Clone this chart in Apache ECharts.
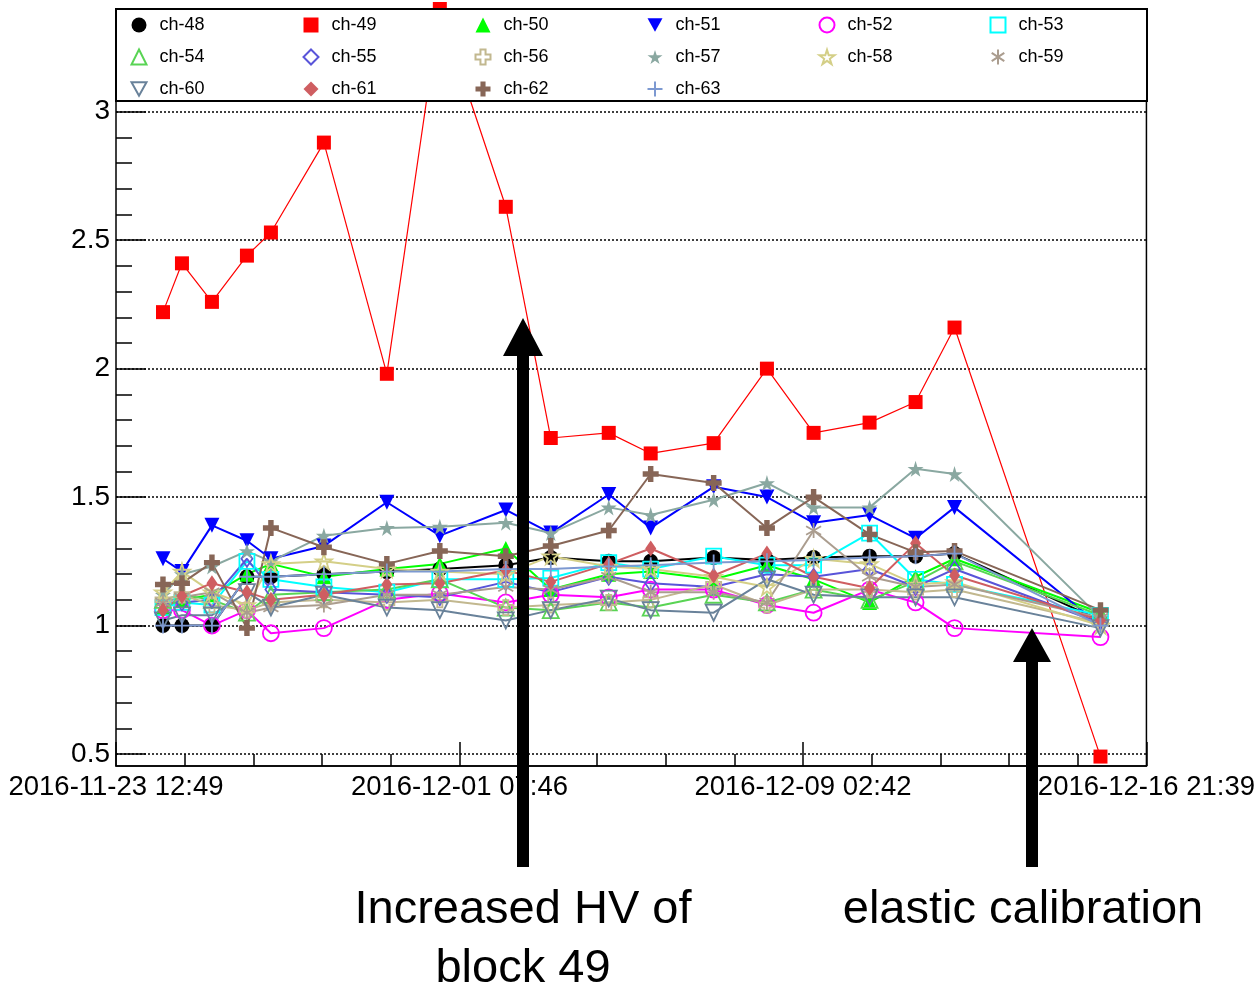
<!DOCTYPE html>
<html>
<head>
<meta charset="utf-8">
<title>ch-48 ~ ch-63</title>
<script src="https://cdn.jsdelivr.net/npm/echarts@6/dist/echarts.min.js"></script>
<style>
    html, body { margin: 0; padding: 0; background: #fff; }
    #main { width: 1258px; height: 988px; }
</style>
</head>
<body>
<div id="main"></div>
<script>
// 运行时间（每个点的横坐标）
let runTimes = ['2016-11-24 14:23', '2016-11-25 00:43', '2016-11-25 17:02', '2016-11-26 12:05', '2016-11-27 01:08',
    '2016-11-28 05:58', '2016-11-29 16:14', '2016-11-30 21:04', '2016-12-02 08:58', '2016-12-03 09:27',
    '2016-12-04 17:00', '2016-12-05 15:50', '2016-12-07 02:06', '2016-12-08 07:06', '2016-12-09 08:30',
    '2016-12-10 14:58', '2016-12-11 16:00', '2016-12-12 13:12', '2016-12-15 20:38'];
// x轴刻度标签
let xTickLabels = ['2016-11-23 12:49', '2016-12-01 07:46', '2016-12-09 02:42', '2016-12-16 21:39'];
// y轴范围
let yTop = 3.4;
let yTickStart = 0.5;
let yDataMin = 0.4533;

let ch48 = [1.00, 1.00, 1.00, 1.19, 1.19, 1.20, 1.21, 1.22, 1.235, 1.265, 1.25, 1.25, 1.265, 1.255, 1.265, 1.27, 1.27, 1.28, 1.02];
let ch49 = [2.22, 2.41, 2.26, 2.44, 2.53, 2.88, 1.98, 3.40, 2.63, 1.73, 1.75, 1.67, 1.71, 2.00, 1.75, 1.79, 1.87, 2.16, 0.49];
let ch50 = [1.07, 1.10, 1.12, 1.20, 1.24, 1.19, 1.22, 1.24, 1.30, 1.14, 1.20, 1.21, 1.18, 1.235, 1.18, 1.09, 1.19, 1.26, 1.05];
let ch51 = [1.26, 1.21, 1.39, 1.33, 1.26, 1.31, 1.48, 1.35, 1.45, 1.36, 1.51, 1.38, 1.54, 1.50, 1.40, 1.43, 1.34, 1.46, 1.00];
let ch52 = [1.06, 1.06, 1.00, 1.06, 0.97, 0.99, 1.10, 1.125, 1.09, 1.12, 1.11, 1.14, 1.14, 1.08, 1.05, 1.14, 1.09, 0.99, 0.955];
let ch53 = [1.07, 1.09, 1.08, 1.25, 1.18, 1.15, 1.13, 1.18, 1.18, 1.185, 1.245, 1.22, 1.27, 1.235, 1.235, 1.36, 1.18, 1.16, 1.04];
let ch54 = [1.10, 1.12, 1.10, 1.05, 1.12, 1.13, 1.14, 1.18, 1.07, 1.06, 1.09, 1.07, 1.12, 1.09, 1.14, 1.10, 1.17, 1.25, 1.04];
let ch55 = [1.09, 1.09, 1.10, 1.26, 1.14, 1.13, 1.12, 1.11, 1.17, 1.13, 1.19, 1.165, 1.15, 1.20, 1.19, 1.22, 1.15, 1.22, 1.01];
let ch56 = [1.10, 1.12, 1.08, 1.06, 1.09, 1.10, 1.09, 1.10, 1.07, 1.08, 1.09, 1.10, 1.16, 1.08, 1.14, 1.14, 1.13, 1.14, 1.01];
let ch57 = [1.12, 1.20, 1.23, 1.29, 1.25, 1.35, 1.38, 1.385, 1.40, 1.36, 1.46, 1.43, 1.49, 1.555, 1.46, 1.46, 1.61, 1.59, 1.03];
let ch58 = [1.13, 1.21, 1.13, 1.08, 1.24, 1.25, 1.22, 1.21, 1.20, 1.27, 1.23, 1.22, 1.19, 1.15, 1.26, 1.24, 1.16, 1.17, 1.00];
let ch59 = [1.09, 1.11, 1.13, 1.05, 1.07, 1.08, 1.12, 1.12, 1.15, 1.14, 1.19, 1.13, 1.13, 1.09, 1.37, 1.19, 1.15, 1.16, 1.03];
let ch60 = [1.02, 1.04, 1.04, 1.13, 1.07, 1.12, 1.07, 1.06, 1.02, 1.06, 1.105, 1.06, 1.05, 1.18, 1.12, 1.11, 1.11, 1.11, 0.99];
let ch61 = [1.06, 1.115, 1.165, 1.13, 1.10, 1.12, 1.16, 1.165, 1.215, 1.17, 1.24, 1.30, 1.195, 1.28, 1.19, 1.145, 1.32, 1.195, 1.02];
let ch62 = [1.16, 1.165, 1.245, 0.99, 1.38, 1.305, 1.24, 1.29, 1.27, 1.31, 1.37, 1.59, 1.555, 1.38, 1.50, 1.355, 1.285, 1.29, 1.06];
let ch63 = [1.00, 1.00, 1.00, 1.19, 1.19, 1.20, 1.21, 1.21, 1.22, 1.22, 1.23, 1.235, 1.245, 1.25, 1.255, 1.265, 1.27, 1.28, 1.00];

// 标记形状
const TRI_DOWN = 'path://M0,0 L10,0 L5,9 Z';
const CROSS = 'path://M3.3,0 L6.7,0 L6.7,3.3 L10,3.3 L10,6.7 L6.7,6.7 L6.7,10 L3.3,10 L3.3,6.7 L0,6.7 L0,3.3 L3.3,3.3 Z';
const STAR = 'path://M50,0 L61,35 L98,35 L68,57 L79,91 L50,70 L21,91 L32,57 L2,35 L39,35 Z';
const ASTERISK = 'path://M5,0 L5,10 M0.8,2.2 L9.2,7.8 M0.8,7.8 L9.2,2.2';
const PLUS = 'path://M5,0 L5,10 M0,5 L10,5';

let channels = [
    {name: 'ch-48', data: ch48, color: '#000000', symbol: 'circle', size: 15, open: false},
    {name: 'ch-49', data: ch49, color: '#ff0000', symbol: 'rect', size: 14, open: false, width: 1.2},
    {name: 'ch-50', data: ch50, color: '#00ff00', symbol: 'triangle', size: 15, open: false},
    {name: 'ch-51', data: ch51, color: '#0000ff', symbol: TRI_DOWN, size: 15, open: false},
    {name: 'ch-52', data: ch52, color: '#ff00ff', symbol: 'circle', size: 16, open: true},
    {name: 'ch-53', data: ch53, color: '#00ffff', symbol: 'rect', size: 15, open: true},
    {name: 'ch-54', data: ch54, color: '#59d454', symbol: 'triangle', size: 16, open: true},
    {name: 'ch-55', data: ch55, color: '#5954d9', symbol: 'diamond', size: [11, 16], open: true},
    {name: 'ch-56', data: ch56, color: '#c2b88f', symbol: CROSS, size: 15, open: true},
    {name: 'ch-57', data: ch57, color: '#8aa8a1', symbol: STAR, size: 16, open: false},
    {name: 'ch-58', data: ch58, color: '#d4cf87', symbol: STAR, size: 16, open: true},
    {name: 'ch-59', data: ch59, color: '#ab9d8f', symbol: ASTERISK, size: 15, open: true},
    {name: 'ch-60', data: ch60, color: '#69829a', symbol: TRI_DOWN, size: 16, open: true},
    {name: 'ch-61', data: ch61, color: '#cf5e61', symbol: 'diamond', size: [11, 16], open: false},
    {name: 'ch-62', data: ch62, color: '#876657', symbol: CROSS, size: 16, open: false},
    {name: 'ch-63', data: ch63, color: '#7d99d1', symbol: PLUS, size: 16, open: true}
];

const FONT = '"Liberation Sans", Arial, Helvetica, sans-serif';

/**
 * 时间字符串 -> 分钟
 */
function toMinutes(s) {
    let p = s.split(/[- :]/).map(Number);
    return Date.UTC(p[0], p[1] - 1, p[2], p[3], p[4]) / 60000;
}

let t0 = toMinutes(xTickLabels[0]);
let tSpan = toMinutes(xTickLabels[xTickLabels.length - 1]) - t0;
let nSteps = xTickLabels.length - 1;

/**
 * 横坐标换算成刻度单位（每个主刻度为 1）
 */
function axisUnit(s) {
    return (toMinutes(s) - t0) / tSpan * nSteps;
}

/**
 * 箭头多边形
 */
function arrowPoints(cx, tipY, bottomY, headLen, headHalf, shaftHalf) {
    return [
        [cx, tipY], [cx + headHalf, tipY + headLen], [cx + shaftHalf, tipY + headLen],
        [cx + shaftHalf, bottomY], [cx - shaftHalf, bottomY], [cx - shaftHalf, tipY + headLen],
        [cx - headHalf, tipY + headLen]
    ];
}

let series = channels.map(function (ch) {
    let itemStyle = ch.open
        ? {color: 'rgba(0,0,0,0)', borderColor: ch.color, borderWidth: 1.8}
        : {color: ch.color, borderWidth: 0};
    return {
        name: ch.name,
        type: 'line',
        xAxisIndex: 0,
        yAxisIndex: 0,
        clip: false,
        symbol: ch.symbol,
        symbolSize: ch.size,
        showAllSymbol: true,
        itemStyle: itemStyle,
        lineStyle: {color: ch.color, width: ch.width || 2},
        emphasis: {disabled: true},
        data: ch.data.map(function (v, i) {
            return [axisUnit(runTimes[i]), v];
        })
    };
});

// 图例：6列 x 3行
let colCenters = [138, 310, 482, 654, 826, 997];
let legends = colCenters.map(function (cx, c) {
    let items = channels.filter(function (ch, i) {
        return i % 6 === c;
    }).map(function (ch) {
        return {name: ch.name, icon: ch.symbol};
    });
    return {
        orient: 'vertical',
        left: cx - 7.5,
        top: 16,
        padding: 0,
        itemWidth: 15,
        itemHeight: 15,
        itemGap: 14,
        selectedMode: false,
        z: 11,
        textStyle: {fontSize: 18, fontFamily: FONT, color: '#000', lineHeight: 18, padding: [0, 0, 0, 8]},
        data: items
    };
});

let chart = echarts.init(document.getElementById('main'));
chart.setOption({
    animation: false,
    backgroundColor: '#fff',
    legend: legends,
    grid: [
        {left: 116, right: 111, top: 9, bottom: 222, show: true, borderColor: '#000', borderWidth: 1.5, backgroundColor: 'transparent'},
        {left: 116, right: 111, top: 9, bottom: 234, show: false}
    ],
    xAxis: [
        {
            type: 'value',
            gridIndex: 0,
            min: 0,
            max: nSteps,
            interval: 1,
            axisLine: {show: true, lineStyle: {color: '#000', width: 1.5}},
            axisTick: {show: true, inside: true, length: 24, lineStyle: {color: '#000', width: 1.5}},
            minorTick: {show: true, splitNumber: 5, length: 12, lineStyle: {color: '#000', width: 1.5}},
            splitLine: {show: false},
            axisLabel: {
                show: true,
                margin: 7,
                fontSize: 27.5,
                fontFamily: FONT,
                color: '#000',
                formatter: function (v) {
                    return xTickLabels[Math.round(v)] || '';
                }
            }
        },
        {type: 'value', gridIndex: 1, min: 0, max: nSteps, show: false}
    ],
    yAxis: [
        {type: 'value', gridIndex: 0, min: yDataMin, max: yTop, show: false, splitLine: {show: false}},
        {
            type: 'value',
            gridIndex: 1,
            min: yTickStart,
            max: yTop,
            interval: 0.5,
            axisLine: {show: false},
            axisTick: {show: true, inside: true, length: 30, lineStyle: {color: '#000', width: 1.5}},
            minorTick: {show: true, splitNumber: 5, length: 16, lineStyle: {color: '#000', width: 1.5}},
            splitLine: {show: true, lineStyle: {color: '#000', width: 1.5, type: [2, 2]}},
            axisLabel: {
                margin: 6,
                fontSize: 28,
                fontFamily: FONT,
                color: '#000',
                formatter: function (v) {
                    return Math.abs(v * 2 - Math.round(v * 2)) < 1e-6 ? String(v) : '';
                }
            }
        }
    ],
    graphic: [
        {type: 'rect', z: 10, shape: {x: 116, y: 9, width: 1031, height: 92}, style: {fill: '#fff', stroke: '#000', lineWidth: 2}},
        {type: 'polygon', z: 20, shape: {points: arrowPoints(523, 318, 867, 38, 20, 6)}, style: {fill: '#000'}},
        {type: 'polygon', z: 20, shape: {points: arrowPoints(1032, 628, 867, 34, 19, 6)}, style: {fill: '#000'}},
        {type: 'text', z: 20, x: 523, y: 881, style: {text: 'Increased HV of\nblock 49', fontSize: 47, fontFamily: FONT, fill: '#000', align: 'center', verticalAlign: 'top', lineHeight: 59}},
        {type: 'text', z: 20, x: 1023, y: 881, style: {text: 'elastic calibration', fontSize: 47, fontFamily: FONT, fill: '#000', align: 'center', verticalAlign: 'top', lineHeight: 59}}
    ],
    series: series
});
</script>
</body>
</html>
